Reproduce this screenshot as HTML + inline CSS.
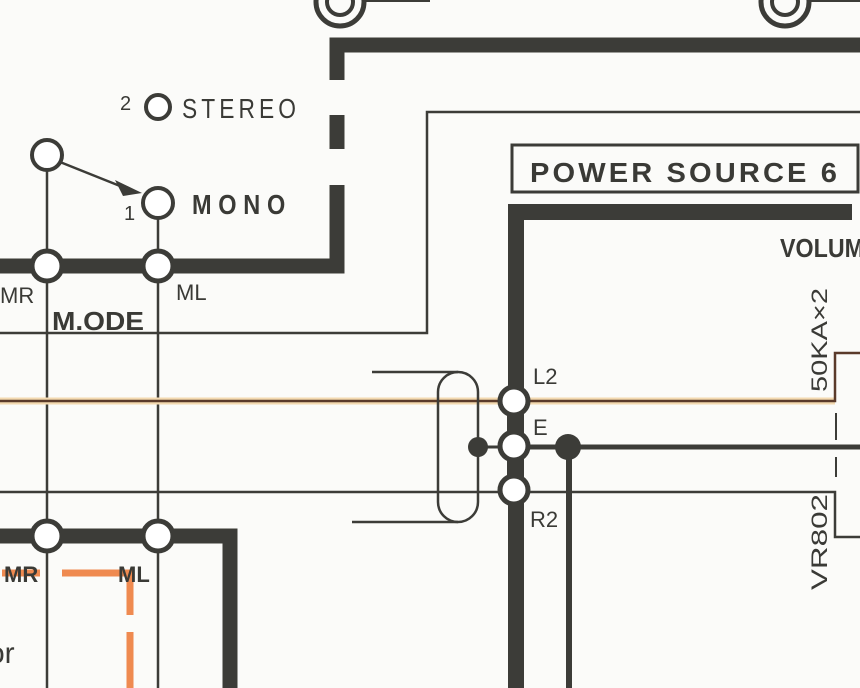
<!DOCTYPE html>
<html><head><meta charset="utf-8"><style>
html,body{margin:0;padding:0;background:#fbfbf9;}
svg{display:block}
text{font-family:"Liberation Sans Narrow","Liberation Sans",sans-serif;fill:#3a3a36;}
</style></head><body>
<svg width="860" height="688" viewBox="0 0 860 688" xmlns="http://www.w3.org/2000/svg">
<rect width="860" height="688" fill="#fbfbf9"/>
<g stroke="#3c3c38" fill="none">
<!-- top double rings -->
<circle cx="340" cy="2" r="24" stroke-width="5"/><circle cx="340" cy="2" r="13" stroke-width="4"/>
<line x1="362" y1="0" x2="430" y2="0" stroke-width="4"/>
<circle cx="785" cy="2" r="24" stroke-width="5"/><circle cx="785" cy="2" r="13" stroke-width="4"/>
<line x1="807" y1="0" x2="860" y2="0" stroke-width="4"/>
<!-- thick bracket -->
<path d="M337,80 V45 H860" stroke-width="15"/>
<line x1="337" y1="115" x2="337" y2="149" stroke-width="15"/>
<path d="M337,185 V266 H0" stroke-width="15"/>
<!-- thin box line -->
<path d="M860,112 H427 V333 H0" stroke-width="2.5"/>
<!-- power source box -->
<rect x="512" y="145" width="346" height="47" stroke-width="3"/>
<!-- thick right structure -->
<path d="M852,212 H516 V688" stroke-width="16"/>
<!-- mode verticals -->
<line x1="47" y1="155" x2="47" y2="688" stroke-width="2.5"/>
<line x1="158" y1="203" x2="158" y2="688" stroke-width="2.5"/>
<!-- switch arrow -->
<line x1="60" y1="162" x2="130" y2="190" stroke-width="2.5"/>
<!-- lower thick -->
<path d="M0,536 H230 V688" stroke-width="15"/>
<!-- signal lines -->
<line x1="0" y1="401" x2="835" y2="401" stroke="#f3d9b0" stroke-width="7"/>
<path d="M0,401 H835 V353 H860" stroke="#5a3a2a" stroke-width="2.5"/>
<path d="M0,492 H835 V537 H860" stroke-width="2.5"/>
<!-- capsule -->
<rect x="438" y="372" width="40" height="150" rx="20" stroke-width="2.5"/>
<line x1="372" y1="372" x2="458" y2="372" stroke-width="2.5"/>
<line x1="352" y1="522" x2="458" y2="522" stroke-width="2.5"/>
<line x1="478" y1="447" x2="500" y2="447" stroke-width="3"/>
<!-- ground lines -->
<line x1="528" y1="447" x2="860" y2="447" stroke-width="5"/>
<line x1="569" y1="447" x2="569" y2="688" stroke-width="6"/>
<!-- connectors between L2/E/R2 -->
<line x1="514" y1="401" x2="514" y2="490" stroke-width="14"/>
<!-- dashes -->
<line x1="836" y1="413" x2="836" y2="440" stroke-width="2"/>
<line x1="836" y1="457" x2="836" y2="477" stroke-width="2"/>
<!-- orange dashed -->
<line x1="2" y1="573" x2="40" y2="573" stroke="#ef8a50" stroke-width="7"/>
<path d="M62,573 H130 V615" stroke="#ef8a50" stroke-width="7"/>
<line x1="130" y1="632" x2="130" y2="688" stroke="#ef8a50" stroke-width="7"/>
</g>
<g fill="#fff" stroke="#3c3c38" stroke-width="5">
<circle cx="158" cy="107" r="12" stroke-width="4"/>
<circle cx="47" cy="155" r="15" stroke-width="4"/>
<circle cx="158" cy="203" r="15" stroke-width="4"/>
<circle cx="47" cy="266" r="15"/><circle cx="158" cy="266" r="15"/>
<circle cx="47" cy="536" r="15"/><circle cx="158" cy="536" r="15"/>
<circle cx="514" cy="401" r="14"/><circle cx="514" cy="446" r="14"/><circle cx="514" cy="490" r="14"/>
</g>
<polygon points="115,180 142,193 123,196" fill="#3c3c38"/>
<circle cx="478" cy="447" r="10" fill="#3c3c38"/>
<circle cx="568" cy="447" r="13" fill="#3c3c38"/>
<g font-size="22">
<text x="120" y="110" font-size="20">2</text>
<text x="182" y="118" font-size="28" letter-spacing="5" textLength="118" lengthAdjust="spacingAndGlyphs">STEREO</text>
<text x="124" y="220" font-size="20">1</text>
<text x="192" y="214" font-size="28" font-weight="bold" letter-spacing="8" textLength="100" lengthAdjust="spacingAndGlyphs">MONO</text>
<text x="0" y="303">MR</text>
<text x="52" y="330" font-size="26" font-weight="bold" textLength="92" lengthAdjust="spacingAndGlyphs">M.ODE</text>
<text x="176" y="300">ML</text>
<text x="530" y="182" font-size="28" font-weight="bold" letter-spacing="3" textLength="310" lengthAdjust="spacingAndGlyphs">POWER SOURCE  6</text>
<text x="780" y="257" font-size="26" font-weight="bold" textLength="84" lengthAdjust="spacingAndGlyphs">VOLUM</text>
<text x="533" y="384">L2</text>
<text x="533" y="435">E</text>
<text x="530" y="527">R2</text>
<text x="4" y="582" font-weight="bold">MR</text>
<text x="118" y="582" font-weight="bold">ML</text>
<text x="-12" y="663" font-size="30">or</text>
<text transform="translate(827,392) rotate(-90)" font-size="22" textLength="104" lengthAdjust="spacingAndGlyphs">50KA×2</text>
<text transform="translate(827,590) rotate(-90)" font-size="22" textLength="96" lengthAdjust="spacingAndGlyphs">VR802</text>
</g>
</svg>
</body></html>
